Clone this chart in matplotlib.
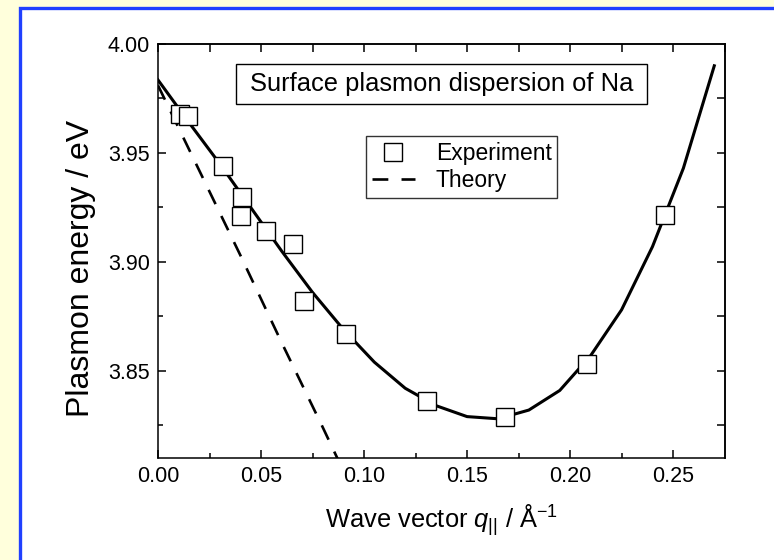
import numpy as np
import matplotlib
matplotlib.use('Agg')
import matplotlib.pyplot as plt
from matplotlib.patches import Rectangle

plt.rcParams['font.family'] = ['Liberation Sans', 'DejaVu Sans']
plt.rcParams['mathtext.fontset'] = 'custom'
plt.rcParams['mathtext.rm'] = 'Liberation Sans'
plt.rcParams['mathtext.it'] = 'Liberation Sans:italic'

# measured points (squares)
exp_q = [0.0107, 0.0144, 0.0314, 0.0408, 0.0401, 0.0522, 0.0657, 0.0710, 0.0912,
         0.1304, 0.1684, 0.2080, 0.2463]
exp_E = [3.968, 3.967, 3.944, 3.930, 3.921, 3.914, 3.908, 3.882, 3.867,
         3.836, 3.829, 3.853, 3.9215]

# fitted curve through the data (solid)
fit_q = [0.000, 0.015, 0.030, 0.045, 0.060, 0.075, 0.090, 0.105, 0.120, 0.135,
         0.150, 0.165, 0.180, 0.195, 0.210, 0.225, 0.240, 0.255, 0.270]
fit_E = [3.9835, 3.964, 3.945, 3.925, 3.905, 3.886, 3.869, 3.854, 3.842, 3.834,
         3.829, 3.828, 3.832, 3.841, 3.857, 3.878, 3.907, 3.943, 3.990]

# theory (dashed)
th_q = [0.000, 0.020, 0.040, 0.060, 0.080, 0.0875]
th_E = [3.981, 3.942, 3.903, 3.863, 3.824, 3.809]

fig = plt.figure(figsize=(7.74, 5.6), dpi=100)
fig.patch.set_facecolor('#ffffdc')
# white panel with blue border
fig.add_artist(Rectangle((19.5 / 774, -0.1), 1.2, (560 - 7.5) / 560 + 0.1,
                         transform=fig.transFigure, facecolor='white',
                         edgecolor='#2040ff', lw=2.4, zorder=-10))

ax = fig.add_axes([158 / 774, 102 / 560, 567 / 774, 414 / 560])
ax.set_facecolor('white')

ax.plot(fit_q, fit_E, '-', color='black', lw=2.2, zorder=2)
ax.plot(th_q, th_E, color='black', lw=1.9, dashes=(6, 5), label='Theory', zorder=2)
ax.plot(exp_q, exp_E, 's', ms=12.5, mfc='white', mec='black', mew=1.0,
        label='Experiment', zorder=3, linestyle='none')

ax.set_xlim(0, 0.2752)
ax.set_ylim(3.81, 4.00)
ax.set_xticks(np.arange(0, 0.26, 0.05))
ax.set_xticks(np.arange(0.025, 0.27, 0.05), minor=True)
ax.set_yticks([3.85, 3.90, 3.95, 4.00])
ax.set_yticks([3.825, 3.875, 3.925, 3.975], minor=True)
ax.xaxis.set_major_formatter(matplotlib.ticker.FormatStrFormatter('%.2f'))
ax.yaxis.set_major_formatter(matplotlib.ticker.FormatStrFormatter('%.2f'))
ax.tick_params(which='major', direction='in', length=6, width=1.1, labelsize=15.5, pad=6)
ax.tick_params(which='minor', direction='in', length=3.8, width=1.1)

secx = ax.secondary_xaxis('top')
secx.set_xticks(np.arange(0, 0.2751, 0.025))
secx.tick_params(direction='in', length=6, width=1.1, labeltop=False)
secy = ax.secondary_yaxis('right')
secy.set_yticks(np.arange(3.825, 4.0, 0.025))
secy.tick_params(direction='in', length=6, width=1.1, labelright=False)
for s in list(ax.spines.values()) + [secx.spines['top'], secy.spines['right']]:
    s.set_linewidth(1.1)

ax.set_xlabel(r'Wave vector $\mathit{q}_{\mathrm{||}}$ / Å$^{\mathrm{-1}}$', fontsize=18.4, labelpad=11)
ax.set_ylabel('Plasmon energy / eV', fontsize=23)
ax.yaxis.set_label_coords(-0.11, 0.459)

# title box
ax.add_patch(Rectangle((0.1376, 0.855), 0.7248, 0.0967, transform=ax.transAxes,
                       facecolor='white', edgecolor='black', lw=1.0, zorder=4))
ax.text(0.5, 0.903, 'Surface plasmon dispersion of Na', transform=ax.transAxes,
        ha='center', va='center', fontsize=18.4, zorder=5)

handles, labels = ax.get_legend_handles_labels()
leg = ax.legend(handles[::-1], labels[::-1], loc='upper left', bbox_to_anchor=(0.3668, 0.7778),
                borderaxespad=0, fontsize=16.5, frameon=True, fancybox=False,
                edgecolor='black', handlelength=1.9, handletextpad=0.9,
                labelspacing=0.2, borderpad=0.25)
leg.get_frame().set_linewidth(1.0)

fig.savefig('out.png', dpi=100)
